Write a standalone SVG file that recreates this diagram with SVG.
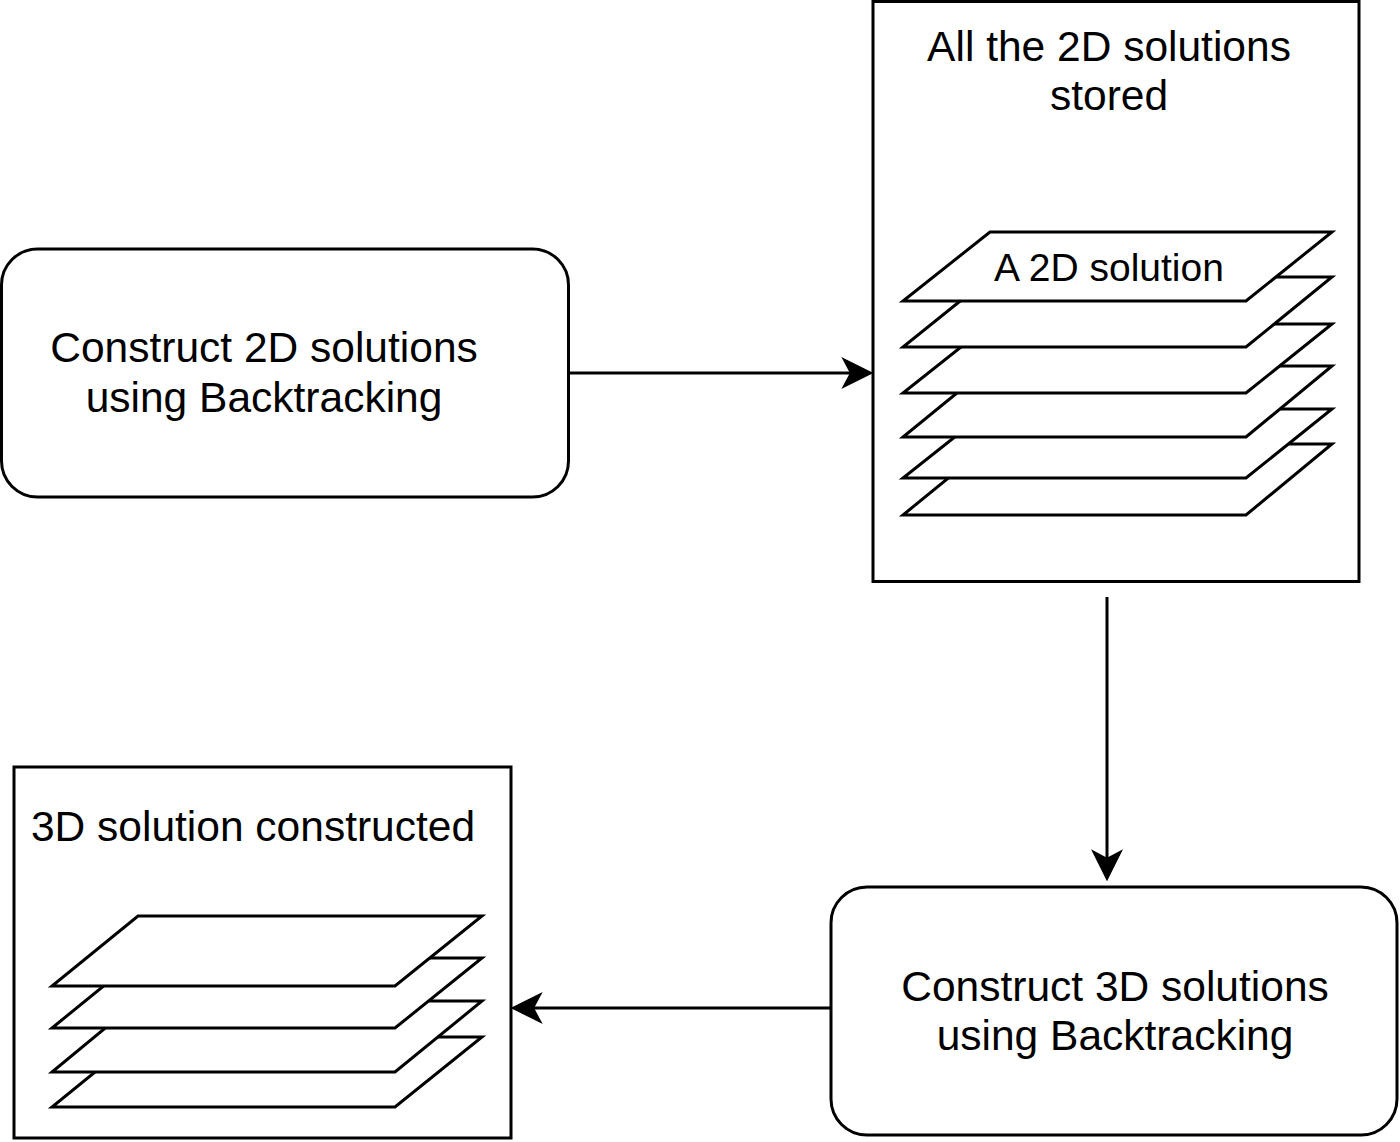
<svg xmlns="http://www.w3.org/2000/svg" width="1400" height="1142" viewBox="0 0 1400 1142">
<defs>
<style>
.box{fill:#fff;stroke:#000;stroke-width:3}
.sheet{fill:#fff;stroke:#000;stroke-width:3;stroke-linejoin:miter}
.t{font-family:"Liberation Sans",Arial,sans-serif;font-size:42.5px;fill:#000;text-anchor:middle}
.t2{font-family:"Liberation Sans",Arial,sans-serif;font-size:39px;fill:#000;text-anchor:middle}
.edge{fill:none;stroke:#000;stroke-width:3;marker-end:url(#arr)}
</style>
<marker id="arr" markerWidth="32" markerHeight="32" viewBox="0 0 30 30" refX="10" refY="15" orient="auto" markerUnits="userSpaceOnUse">
<path d="M0,0 L30,15 L0,30 L8,15 Z" fill="#000"/>
</marker>
</defs>
<rect width="1400" height="1142" fill="#fff"/>
<g id="node-construct2d">
<rect class="box" x="1.5" y="249" width="567" height="248" rx="36"/>
<text class="t" x="264" y="362">Construct 2D solutions</text>
<text class="t" x="264" y="412">using Backtracking</text>
</g>
<g id="node-stored">
<rect class="box" x="873" y="1.5" width="486" height="580"/>
<text class="t" x="1109" y="61">All the 2D solutions</text>
<text class="t" x="1109" y="110">stored</text>
<g id="stack2d">
<polygon class="sheet" points="990,444 1332,444 1246,515 903,515"/>
<polygon class="sheet" points="990,409 1332,409 1246,478 903,478"/>
<polygon class="sheet" points="990,366 1332,366 1246,437 903,437"/>
<polygon class="sheet" points="990,324 1332,324 1246,393 903,393"/>
<polygon class="sheet" points="990,277 1332,277 1246,347 903,347"/>
<polygon class="sheet" points="990,232 1332,232 1246,301 903,301"/>
<text class="t2" x="1109" y="281">A 2D solution</text>
</g>
</g>
<g id="node-construct3d">
<rect class="box" x="831" y="887" width="566" height="248" rx="36"/>
<text class="t" x="1115" y="1001">Construct 3D solutions</text>
<text class="t" x="1115" y="1050">using Backtracking</text>
</g>
<g id="node-3d">
<rect class="box" x="14" y="767" width="497" height="371"/>
<text class="t" x="253" y="841">3D solution constructed</text>
<polygon class="sheet" points="138,1037 482,1037 395,1107 52,1107"/>
<polygon class="sheet" points="138,1001 482,1001 395,1072 52,1072"/>
<polygon class="sheet" points="138,958 482,958 395,1028 52,1028"/>
<polygon class="sheet" points="138,916 482,916 395,986 52,986"/>
</g>
<g id="connectors">
<line class="edge" x1="568" y1="373" x2="852" y2="373"/>
<line class="edge" x1="1107" y1="597" x2="1107" y2="860"/>
<line class="edge" x1="830" y1="1008" x2="532" y2="1008"/>
</g>
</svg>
